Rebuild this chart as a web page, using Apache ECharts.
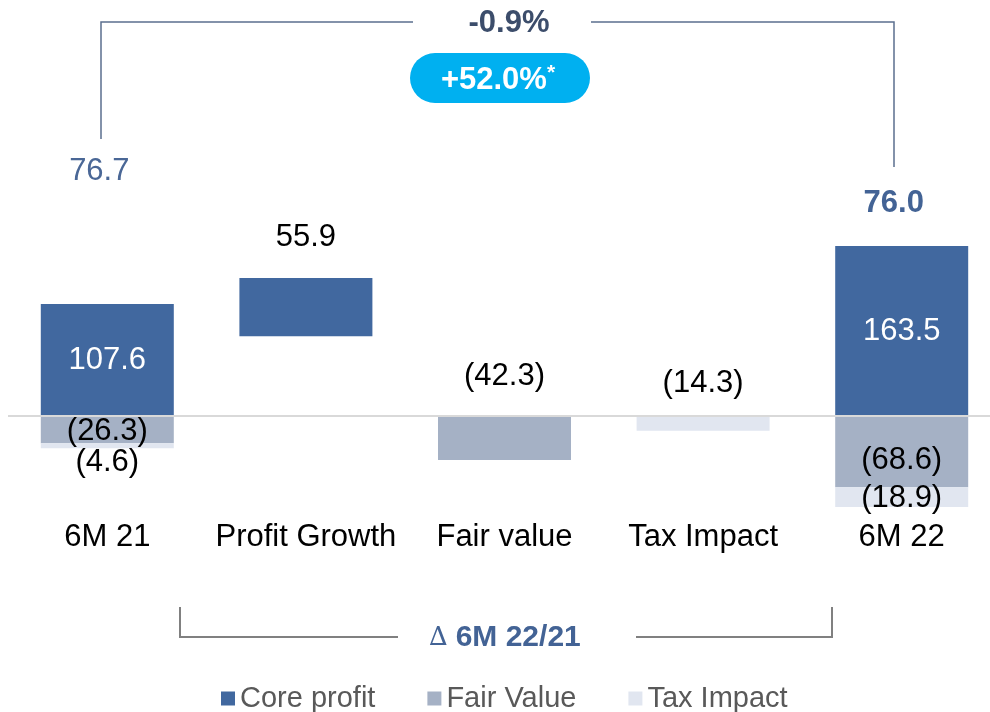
<!DOCTYPE html>
<html>
<head>
<meta charset="utf-8">
<script src="https://cdn.jsdelivr.net/npm/echarts@6.0.0/dist/echarts.min.js"></script>
<style>
  html, body { margin: 0; padding: 0; background: #fff; }
  #chart { width: 990px; height: 712px; }
</style>
</head>
<body>
<div id="chart"></div>
<script>
// data
const categories = ['6M 21', 'Profit Growth', 'Fair value', 'Tax Impact', '6M 22'];
const baseValues = ['-', 76.7, '-', '-', '-'];   // invisible offset for the floating bar
const coreProfit = [107.6, 55.9, '-', '-', 163.5];
const fairValue = [-26.3, '-', -42.3, '-', -68.6];
const taxImpact = [-4.6, '-', '-', -14.3, -18.9];
const netProfit = [76.7, null, null, null, 76.0];
const changeReported = '-0.9%';
const changeAdjusted = '+52.0%';
const bracketTitle = '6M 22/21';

const FONT = "'Liberation Sans', Arial, sans-serif";
const colors = { core: '#41689f', fair: '#a5b1c5', tax: '#e1e6f0' };

function fmt(p) {
  const v = p.value;
  return v < 0 ? '(' + Math.abs(v).toFixed(1) + ')' : v.toFixed(1);
}
// attach per-bar label tweaks
function withLabels(values, labels) {
  return values.map((v, i) => labels[i] ? { value: v, label: labels[i] } : v);
}

const chart = echarts.init(document.getElementById('chart'));

const labelBase = { show: true, formatter: fmt, fontFamily: FONT, fontSize: 31, color: '#000' };

chart.setOption({
  animation: false,
  grid: { left: 8, width: 993, top: 104, height: 416, outerBoundsMode: 'none', containLabel: false },
  legend: {
    data: ['Core profit', 'Fair Value', 'Tax Impact'],
    left: 216, top: 679,
    icon: 'rect', itemWidth: 14, itemHeight: 14, itemGap: 52,
    textStyle: { fontFamily: FONT, fontSize: 29, color: '#595959' }
  },
  xAxis: {
    type: 'category',
    data: categories,
    axisLine: { show: false },
    axisTick: { show: false },
    axisLabel: { fontFamily: FONT, fontSize: 31, color: '#000', margin: 2, interval: 0 }
  },
  yAxis: { type: 'value', min: -100, max: 300, show: false },
  series: [
    {
      name: 'base', type: 'bar', stack: 'w', barWidth: 133,
      data: baseValues,
      itemStyle: { color: 'transparent' },
      silent: true,
      markLine: {
        silent: true, symbol: 'none', label: { show: false },
        lineStyle: { color: '#d9d9d9', width: 2, type: 'solid' },
        data: [{ yAxis: 0 }]
      }
    },
    {
      name: 'Core profit', type: 'bar', stack: 'w', barWidth: 133,
      itemStyle: { color: colors.core },
      label: Object.assign({}, labelBase, { position: 'inside', color: '#fff' }),
      data: withLabels(coreProfit, { 1: { position: 'top', distance: 25, color: '#000' } })
    },
    {
      name: 'Fair Value', type: 'bar', stack: 'w', barWidth: 133,
      itemStyle: { color: colors.fair },
      label: Object.assign({}, labelBase, { position: 'inside' }),
      data: withLabels(fairValue, {
        0: { offset: [0, 2] },
        2: { position: 'top', distance: 24 },
        4: { offset: [0, 9] }
      })
    },
    {
      name: 'Tax Impact', type: 'bar', stack: 'w', barWidth: 133,
      itemStyle: { color: colors.tax },
      label: Object.assign({}, labelBase, { position: 'inside' }),
      data: withLabels(taxImpact, {
        0: { position: 'bottom', distance: -1 },
        3: { position: 'top', distance: 17 },
        4: { offset: [0, 1] }
      })
    }
  ]
});

// annotations: net result labels, brackets, change badges
const graphics = [];
netProfit.forEach((v, i) => {
  if (v == null) return;
  const x = chart.convertToPixel({ xAxisIndex: 0 }, categories[i]) - 8;
  const last = i === netProfit.length - 1;
  graphics.push({
    type: 'text', x: x, y: last ? 203 : 171,
    style: {
      text: v.toFixed(1), align: 'center', verticalAlign: 'middle',
      font: (last ? 'bold ' : '') + '31px ' + FONT,
      fill: last ? '#436395' : '#4a6796'
    }
  });
});

const lineTop = { stroke: '#5b6f8f', lineWidth: 1.5, fill: null };
graphics.push(
  { type: 'polyline', shape: { points: [[101, 139], [101, 22], [413, 22]] }, style: lineTop },
  { type: 'polyline', shape: { points: [[591, 22], [894, 22], [894, 167]] }, style: lineTop },
  {
    type: 'text', x: 509, y: 23,
    style: { text: changeReported, align: 'center', verticalAlign: 'middle', font: 'bold 31px ' + FONT, fill: '#3c4d6b' }
  },
  { type: 'rect', shape: { x: 410, y: 53, width: 180, height: 50, r: 25 }, style: { fill: '#00b0f0' } },
  {
    type: 'text', x: 498, y: 80,
    style: {
      text: '{a|' + changeAdjusted + '}{s|*}', align: 'center', verticalAlign: 'middle',
      rich: {
        a: { fontFamily: FONT, fontWeight: 'bold', fontSize: 31, fill: '#fff' },
        s: { fontFamily: FONT, fontWeight: 'bold', fontSize: 21, fill: '#fff', verticalAlign: 'top', padding: [0, 0, 14, 0] }
      }
    }
  }
);

const lineBottom = { stroke: '#808080', lineWidth: 2, fill: null };
graphics.push(
  { type: 'polyline', shape: { points: [[180, 607], [180, 637], [398, 637]] }, style: lineBottom },
  { type: 'polyline', shape: { points: [[636, 637], [832, 637], [832, 607]] }, style: lineBottom },
  {
    type: 'text', x: 505, y: 638,
    style: {
      text: '{d|\u2206 }{t|' + bracketTitle + '}', align: 'center', verticalAlign: 'middle',
      rich: {
        d: { fontFamily: "'DejaVu Serif', serif", fontSize: 26, fill: '#436395' },
        t: { fontFamily: FONT, fontWeight: 'bold', fontSize: 30, fill: '#436395' }
      }
    }
  }
);

chart.setOption({ graphic: graphics });
</script>
</body>
</html>
